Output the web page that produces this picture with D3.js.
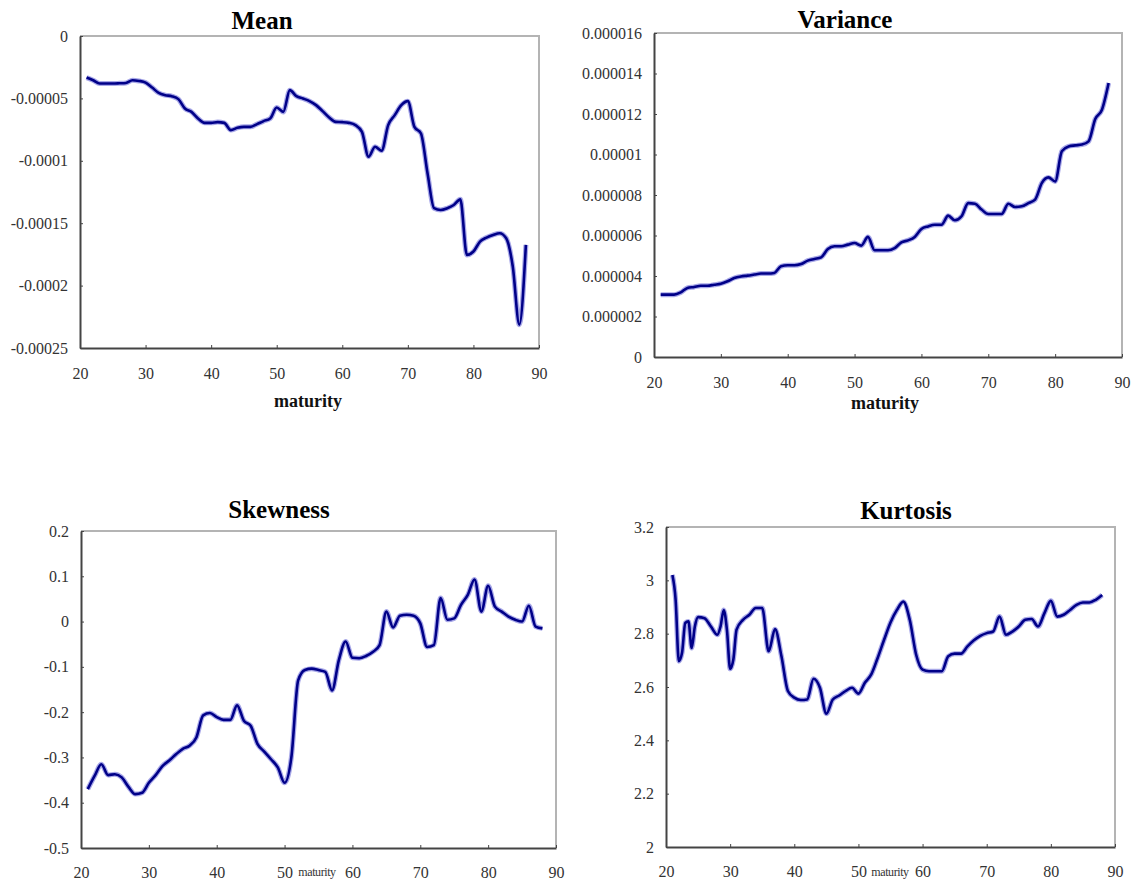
<!DOCTYPE html>
<html>
<head>
<meta charset="utf-8">
<script src="https://cdn.jsdelivr.net/npm/d3@7"></script>
<style>
  body { margin: 0; background: #fff; }
  svg { display: block; }
  .tick text { font-family: "Liberation Serif", "Times New Roman", serif; font-size: 16px; fill: #333; }
</style>
</head>
<body>
<svg width="1134" height="884"></svg>
<script>
// maturity grid
const maturity = d3.range(21, 89);

// Mean (values x 1e-5)
const meanValues = [
  -3.33, -3.55, -3.81, -3.81, -3.81, -3.79, -3.76, -3.54, -3.6, -3.73,
  -4.13, -4.56, -4.74, -4.82, -5.06, -5.81, -6.08, -6.61, -6.96, -6.96,
  -6.9, -6.96, -7.54, -7.36, -7.28, -7.28, -7.06, -6.82, -6.61, -5.73,
  -6.08, -4.34, -4.82, -5.01, -5.22, -5.54, -6.02, -6.53, -6.88, -6.9,
  -6.96, -7.14, -7.68, -9.67, -8.87, -9.19, -7.14, -6.34, -5.54, -5.22,
  -7.28, -7.81, -11.0, -13.8, -13.94, -13.8, -13.54, -13.09, -17.54, -17.27,
  -16.47, -16.15, -15.94, -15.8, -16.2, -18.47, -23.13, -16.74
];

// Variance (values x 1e-6)
const varianceValues = [
  3.08, 3.08, 3.08, 3.19, 3.41, 3.46, 3.52, 3.52, 3.57, 3.62,
  3.74, 3.9, 3.98, 4.02, 4.07, 4.12, 4.12, 4.15, 4.48, 4.53,
  4.53, 4.59, 4.76, 4.84, 4.92, 5.33, 5.47, 5.47, 5.55, 5.63,
  5.5, 5.93, 5.27, 5.27, 5.27, 5.38, 5.66, 5.76, 5.93, 6.32,
  6.45, 6.53, 6.53, 6.98, 6.75, 6.95, 7.6, 7.57, 7.28, 7.06,
  7.06, 7.06, 7.57, 7.41, 7.44, 7.6, 7.77, 8.59, 8.87, 8.67,
  10.16, 10.4, 10.45, 10.49, 10.65, 11.75, 12.21, 13.53
];

const skewnessValues = [
  -0.370, -0.341, -0.315, -0.339, -0.337, -0.344, -0.365, -0.381, -0.378, -0.356,
  -0.339, -0.319, -0.307, -0.293, -0.281, -0.274, -0.256, -0.207, -0.202, -0.211,
  -0.217, -0.217, -0.185, -0.219, -0.230, -0.270, -0.287, -0.304, -0.322, -0.356,
  -0.300, -0.130, -0.107, -0.104, -0.107, -0.111, -0.152, -0.085, -0.044, -0.080,
  -0.081, -0.076, -0.067, -0.052, 0.022, -0.013, 0.013, 0.015, 0.013, -0.004,
  -0.056, -0.052, 0.052, 0.004, 0.007, 0.037, 0.059, 0.093, 0.022, 0.079,
  0.033, 0.022, 0.011, 0.004, 0.000, 0.035, -0.011, -0.015
];

// Kurtosis is wigglier at the short end, so it has its own maturity points
const kurtosisMaturity = [
  21, 21.5, 22, 22.5, 23, 23.5, 24, 24.5, 25, 26, 27, 28, 28.5, 29, 29.5, 30, 30.5,
  31, 32, 33, 34, 35, 36, 37, 38, 39, 40, 41, 42, 43, 44, 45, 46, 47, 48, 49, 50,
  51, 52, 53, 54, 55, 56, 57, 58, 59, 60, 61, 62, 63, 64, 65, 66, 67, 68, 69, 70,
  71, 72, 73, 74, 75, 76, 77, 78, 79, 80, 81, 82, 83, 84, 85, 86, 87, 88
];
const kurtosisValues = [
  3.02, 2.927, 2.697, 2.728, 2.84, 2.846, 2.746, 2.827, 2.862, 2.858, 2.827, 2.796, 2.827, 2.889, 2.814, 2.668, 2.703,
  2.815, 2.852, 2.871, 2.896, 2.896, 2.734, 2.817, 2.715, 2.585, 2.56, 2.551, 2.553, 2.631, 2.597, 2.5, 2.553, 2.568, 2.585, 2.597, 2.575,
  2.616, 2.647, 2.709, 2.777, 2.842, 2.889, 2.92, 2.852, 2.721, 2.665, 2.659, 2.659, 2.659, 2.715, 2.725, 2.725, 2.752, 2.775, 2.792, 2.802,
  2.808, 2.864, 2.796, 2.808, 2.827, 2.852, 2.855, 2.827, 2.877, 2.923, 2.864, 2.871, 2.889, 2.908, 2.917, 2.917, 2.927, 2.945
];

const xTicks = [20, 30, 40, 50, 60, 70, 80, 90];

const meanTicks = [0, -5, -10, -15, -20, -25];
const meanTickLabels = ["0", "-0.00005", "-0.0001", "-0.00015", "-0.0002", "-0.00025"];
const varianceTicks = [0, 2, 4, 6, 8, 10, 12, 14, 16];
const varianceTickLabels = ["0", "0.000002", "0.000004", "0.000006", "0.000008", "0.00001", "0.000012", "0.000014", "0.000016"];
const skewnessTicks = [0.2, 0.1, 0, -0.1, -0.2, -0.3, -0.4, -0.5];
const skewnessTickLabels = ["0.2", "0.1", "0", "-0.1", "-0.2", "-0.3", "-0.4", "-0.5"];
const kurtosisTicks = [3.2, 3, 2.8, 2.6, 2.4, 2.2, 2];
const kurtosisTickLabels = ["3.2", "3", "2.8", "2.6", "2.4", "2.2", "2"];

const svg = d3.select("svg");

const panels = [
  { title: "Mean", x: maturity, y: meanValues, yDomain: [-25, 0], ticks: meanTicks, labels: meanTickLabels,
    box: [80, 539, 36, 348], titleX: 262, titleY: 20, xlab: { x: 308, y: 401, small: false }, tickY: 373 },
  { title: "Variance", x: maturity, y: varianceValues, yDomain: [0, 16], ticks: varianceTicks, labels: varianceTickLabels,
    box: [654, 1122, 33, 357], titleX: 845, titleY: 19, xlab: { x: 885, y: 403, small: false }, tickY: 382 },
  { title: "Skewness", x: maturity, y: skewnessValues, yDomain: [-0.5, 0.2], ticks: skewnessTicks, labels: skewnessTickLabels,
    box: [81, 556, 531, 848], titleX: 279, titleY: 509, xlab: { x: 317, y: 872, small: true }, tickY: 872 },
  { title: "Kurtosis", x: kurtosisMaturity, y: kurtosisValues, yDomain: [2, 3.2], ticks: kurtosisTicks, labels: kurtosisTickLabels,
    box: [666, 1115, 527, 847], titleX: 906, titleY: 510, xlab: { x: 890, y: 872, small: true }, tickY: 871 }
];

panels.forEach(p => {
  const [x0, x1, y0, y1] = p.box;
  const x = d3.scaleLinear().domain([20, 90]).range([x0, x1]);
  const y = d3.scaleLinear().domain(p.yDomain).range([y1, y0]);
  const g = svg.append("g");

  // light frame (top / right)
  g.append("path")
    .attr("d", `M${x0},${y0}H${x1}V${y1}`)
    .attr("fill", "none")
    .attr("stroke", "#b4b4b4")
    .attr("stroke-width", 2);

  // y axis, ticks pointing inside
  const yAxis = g.append("g")
    .attr("transform", `translate(${x0},0)`)
    .call(d3.axisLeft(y).tickValues(p.ticks).tickFormat((d, i) => p.labels[i])
      .tickSizeInner(-3).tickSizeOuter(0).tickPadding(12));
  yAxis.select(".domain").attr("stroke", "#444").attr("stroke-width", 2);
  yAxis.selectAll(".tick line").attr("stroke", "#444");

  // x axis
  const xAxis = g.append("g")
    .attr("transform", `translate(0,${y1})`)
    .call(d3.axisBottom(x).tickValues(xTicks).tickSizeInner(-3).tickSizeOuter(0).tickPadding(0));
  xAxis.select(".domain").attr("stroke", "#444").attr("stroke-width", 2);
  xAxis.selectAll(".tick line").attr("stroke", "#444");
  xAxis.selectAll(".tick text").attr("y", p.tickY - y1).attr("dy", "0.35em");

  // series
  const pts = p.x.map((d, i) => [d, p.y[i]]);
  const line = d3.line().x(d => x(d[0])).y(d => y(d[1])).curve(d3.curveMonotoneX);
  g.append("path").datum(pts)
    .attr("d", line).attr("fill", "none")
    .attr("stroke", "#a8a8e8").attr("stroke-width", 5).attr("stroke-linejoin", "round");
  g.append("path").datum(pts)
    .attr("d", line).attr("fill", "none")
    .attr("stroke", "#000088").attr("stroke-width", 2.6).attr("stroke-linejoin", "round");

  // title
  g.append("text")
    .attr("x", p.titleX).attr("y", p.titleY).attr("dy", "0.35em")
    .attr("text-anchor", "middle")
    .style("font-family", "'Liberation Serif', 'Times New Roman', serif")
    .style("font-weight", "bold").style("font-size", "25px")
    .text(p.title);

  // axis title
  g.append("text")
    .attr("x", p.xlab.x).attr("y", p.xlab.y).attr("dy", "0.35em")
    .attr("text-anchor", "middle")
    .style("font-family", "'Liberation Serif', 'Times New Roman', serif")
    .style("font-weight", p.xlab.small ? "normal" : "bold")
    .style("font-size", p.xlab.small ? "12px" : "18px")
    .style("letter-spacing", p.xlab.small ? "-0.4px" : "0")
    .attr("fill", p.xlab.small ? "#333" : "#111")
    .text("maturity");
});
</script>
</body>
</html>
